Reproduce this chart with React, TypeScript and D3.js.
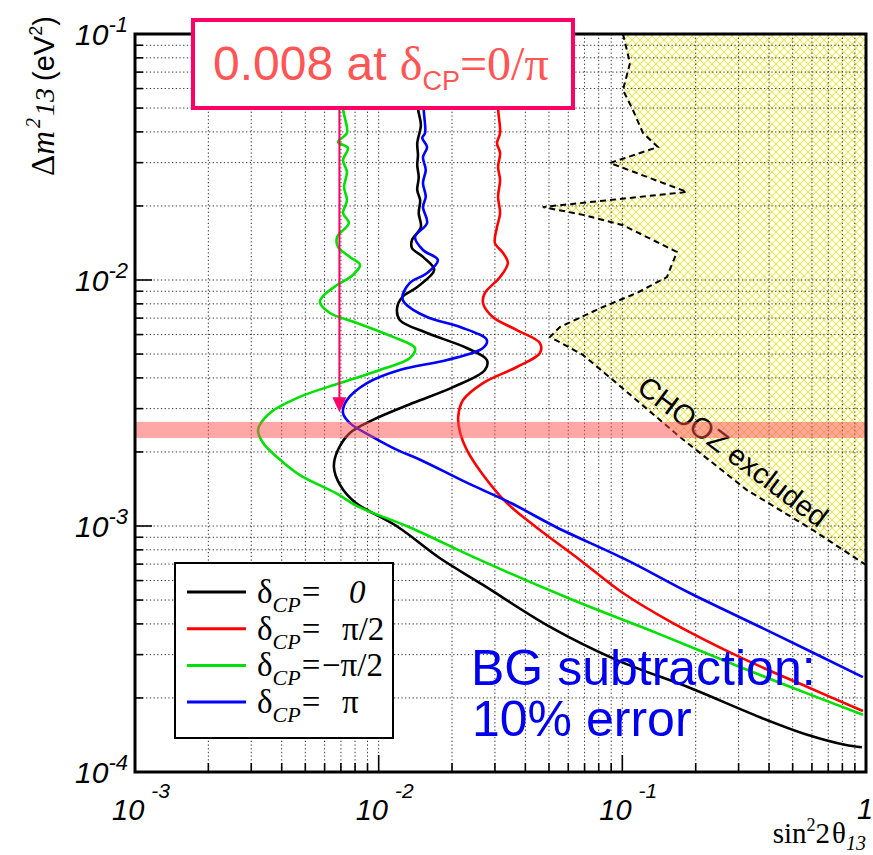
import * as d3 from "d3";

// delta_CP = 0 (black)
const blackDm = [0.1, 0.05, 0.0427, 0.036, 0.0322, 0.0293, 0.0262, 0.0232, 0.0211, 0.0187, 0.0164, 0.01454, 0.01349, 0.01241, 0.011, 0.00937, 0.00853, 0.00769, 0.00688, 0.00609, 0.00529, 0.00473, 0.00431, 0.00367, 0.00316, 0.0027, 0.00239, 0.00204, 0.00174, 0.00147, 0.00125, 0.000991, 0.000741, 0.000576, 0.000389, 0.000285, 0.00022, 0.000167, 0.000141, 0.000129, 0.000126];
const blackS2 = [0.0145, 0.0145, 0.0149, 0.0144, 0.0145, 0.0144, 0.0146, 0.0144, 0.0148, 0.0146, 0.0149, 0.0137, 0.0137, 0.0152, 0.0169, 0.0144, 0.0125, 0.0119, 0.0122, 0.0158, 0.023, 0.0278, 0.0273, 0.0202, 0.0138, 0.00947, 0.00762, 0.00681, 0.00655, 0.00694, 0.00799, 0.012, 0.0178, 0.0268, 0.0505, 0.095, 0.189, 0.367, 0.583, 0.819, 0.962];

// delta_CP = pi/2 (red)
const redDm = [0.1, 0.05, 0.0396, 0.036, 0.0328, 0.0288, 0.0255, 0.0218, 0.0187, 0.0164, 0.01414, 0.01288, 0.01173, 0.01028, 0.00886, 0.00806, 0.00707, 0.00626, 0.00554, 0.00505, 0.00443, 0.00381, 0.00325, 0.00277, 0.00239, 0.00204, 0.00164, 0.00124, 0.000991, 0.000728, 0.000534, 0.000403, 0.000293, 0.000222, 0.000177];
const redS2 = [0.0309, 0.0309, 0.0315, 0.0306, 0.0315, 0.0309, 0.0315, 0.0309, 0.0315, 0.0306, 0.03, 0.0324, 0.0339, 0.0315, 0.0273, 0.0268, 0.0294, 0.0369, 0.0459, 0.0459, 0.0369, 0.0268, 0.0222, 0.0212, 0.0216, 0.023, 0.0265, 0.0336, 0.0442, 0.067, 0.1006, 0.1613, 0.3039, 0.5721, 0.971];

// delta_CP = -pi/2 (green)
const greenDm = [0.1, 0.05, 0.0396, 0.0364, 0.0344, 0.0307, 0.0275, 0.0239, 0.0211, 0.0187, 0.01705, 0.01495, 0.01362, 0.01241, 0.01151, 0.01048, 0.00954, 0.00869, 0.00814, 0.00734, 0.00669, 0.00587, 0.00529, 0.00482, 0.00431, 0.00381, 0.00335, 0.00288, 0.00246, 0.00218, 0.00186, 0.00161, 0.00136, 0.0012, 0.000991, 0.000728, 0.0005, 0.000367, 0.000285, 0.000222, 0.000171];
const greenS2 = [0.00714, 0.00714, 0.00741, 0.00681, 0.00748, 0.00714, 0.00741, 0.00721, 0.00741, 0.00714, 0.00755, 0.00675, 0.00681, 0.00762, 0.00838, 0.00784, 0.00675, 0.00597, 0.00574, 0.00631, 0.00815, 0.01145, 0.01409, 0.01344, 0.01012, 0.00694, 0.00475, 0.00358, 0.0032, 0.00335, 0.00394, 0.00475, 0.00668, 0.00822, 0.01331, 0.026, 0.0627, 0.1387, 0.2587, 0.4872, 0.971];

// delta_CP = pi (blue)
const blueDm = [0.1, 0.05, 0.0396, 0.0378, 0.0347, 0.0316, 0.028, 0.0248, 0.0218, 0.0198, 0.01705, 0.01495, 0.01324, 0.01206, 0.01068, 0.00972, 0.00853, 0.00806, 0.00707, 0.00644, 0.0057, 0.00529, 0.00473, 0.00431, 0.00381, 0.00325, 0.00288, 0.00262, 0.0023, 0.00204, 0.00186, 0.0015, 0.00124, 0.000991, 0.000728, 0.000534, 0.000367, 0.000243];
const blueS2 = [0.0153, 0.0153, 0.0155, 0.0151, 0.0158, 0.0152, 0.0156, 0.0152, 0.0156, 0.0152, 0.0158, 0.0141, 0.0152, 0.0175, 0.0158, 0.0134, 0.0125, 0.0128, 0.0158, 0.0216, 0.0278, 0.0268, 0.0191, 0.0122, 0.00895, 0.00741, 0.00714, 0.00762, 0.00947, 0.0119, 0.0148, 0.023, 0.0349, 0.0534, 0.104, 0.189, 0.415, 0.971];

// CHOOZ excluded boundary
const choozS2 = [0.1006, 0.1075, 0.1006, 0.1105, 0.1215, 0.14, 0.0889, 0.1841, 0.0472, 0.0689, 0.1006, 0.1675, 0.1524, 0.1148, 0.0833, 0.0554, 0.0505, 0.0689, 0.0915, 0.1723, 0.3246, 0.6054, 1.0];
const choozDm = [0.1, 0.0762, 0.0592, 0.0491, 0.0396, 0.0347, 0.0299, 0.0228, 0.0198, 0.0184, 0.0167, 0.013, 0.01028, 0.00886, 0.00777, 0.00644, 0.00587, 0.00496, 0.00392, 0.0023, 0.0014, 0.000963, 0.000694];

const legendValues = ["0", "π/2", "−π/2", "π"];
const seriesColors = ["#000000", "#ff0000", "#00e000", "#0000ff"];

const xMajor = [1e-3, 1e-2, 1e-1, 1];
const xExp = ["-3", "-2", "-1", ""];
const yMajor = [1e-1, 1e-2, 1e-3, 1e-4];
const yExp = ["-1", "-2", "-3", "-4"];

// highlighted band and arrow annotation
const bandDm = [0.00228, 0.00265];
const arrowS2 = 0.0069;
const arrowDm = [0.05, 0.0029];
const choozLabelAt = [0.2687, 0.00186];

const W = 873;
const H = 855;
const L = 135, R = 866, T = 34, B = 772;
const SERIF = "Liberation Serif, Times New Roman, serif";
const SANS = "Liberation Sans, Arial, sans-serif";

export default function App() {
  const x = d3.scaleLog().domain([1e-3, 1]).range([L, R]);
  const y = d3.scaleLog().domain([1e-4, 1e-1]).range([B, T]);

  const series = [
    { dm: blackDm, s2: blackS2 },
    { dm: redDm, s2: redS2 },
    { dm: greenDm, s2: greenS2 },
    { dm: blueDm, s2: blueS2 },
  ].map((s, i) => ({
    color: seriesColors[i],
    label: legendValues[i],
    pts: s.dm.map((d, j) => [s.s2[j], d] as [number, number]),
  }));

  const line = d3
    .line<[number, number]>()
    .x((d) => x(d[0]))
    .y((d) => y(d[1]))
    .curve(d3.curveCatmullRom.alpha(0.5));

  const straight = d3
    .line<[number, number]>()
    .x((d) => x(d[0]))
    .y((d) => y(d[1]));

  const chooz = choozS2.map((s, i) => [s, choozDm[i]] as [number, number]);
  const choozArea = straight([...chooz, [1, 0.1]]) + "Z";
  const choozLine = straight(chooz) ?? "";

  const xt = x.ticks();
  const yt = y.ticks();
  const isMajor = (v: number) => Math.abs(Math.log10(v) - Math.round(Math.log10(v))) < 1e-6;

  const ax = x(arrowS2);
  const tipY = y(arrowDm[1]);

  return (
    <svg width={W} height={H} style={{ position: "absolute", left: 0, top: 0, background: "#fff" }}>
      <defs>
        <clipPath id="plotClip">
          <rect x={L} y={T} width={R - L} height={B - T} />
        </clipPath>
        <pattern id="hatch" width={8} height={8} patternUnits="userSpaceOnUse">
          <rect width={8} height={8} fill="#ffffe6" />
          <path d="M0,0 L8,8 M8,0 L0,8" stroke="#e2e246" strokeWidth={0.9} />
        </pattern>
      </defs>

      {/* CHOOZ excluded area */}
      <g clipPath="url(#plotClip)">
        <path d={choozArea} fill="url(#hatch)" />
      </g>

      {/* grid */}
      <g stroke="#333" strokeWidth={1} strokeDasharray="1.3 2.4">
        {xt.filter((v) => v > 1e-3 && v < 1).map((v) => (
          <line key={"gx" + v} x1={x(v)} x2={x(v)} y1={T} y2={B} />
        ))}
        {yt.filter((v) => v > 1e-4 && v < 1e-1).map((v) => (
          <line key={"gy" + v} x1={L} x2={R} y1={y(v)} y2={y(v)} />
        ))}
      </g>

      <g clipPath="url(#plotClip)">
        <path d={choozLine} fill="none" stroke="#000" strokeWidth={2} strokeDasharray="6 4" />
      </g>
      <text
        transform={`translate(${x(choozLabelAt[0])},${y(choozLabelAt[1])}) rotate(37)`}
        textAnchor="middle"
        fontFamily={SANS}
        fontSize={29}
        fill="#000"
      >
        CHOOZ excluded
      </text>

      {/* sensitivity curves */}
      <g clipPath="url(#plotClip)" fill="none" strokeWidth={2.6} strokeLinejoin="round">
        {series.map((s, i) => (
          <path key={i} d={line(s.pts) ?? ""} stroke={s.color} />
        ))}
      </g>

      {/* highlighted band */}
      <rect x={L} y={y(bandDm[1])} width={R - L} height={y(bandDm[0]) - y(bandDm[1])} fill="#ff4d4d" opacity={0.5} />

      {/* arrow */}
      <line x1={ax} x2={ax} y1={y(arrowDm[0])} y2={tipY - 14} stroke="#ff0066" strokeWidth={2} />
      <path d={`M${ax - 7},${tipY - 15} L${ax + 7},${tipY - 15} L${ax},${tipY} Z`} fill="#ff0066" />

      {/* BG subtraction text */}
      <text fill="#0000ee" fontFamily={SANS} fontSize={50}>
        <tspan x={471} y={685}>BG subtraction:</tspan>
        <tspan x={472} y={736}>10% error</tspan>
      </text>

      {/* legend */}
      <rect x={175} y={563} width={218} height={175} fill="#fff" stroke="#000" strokeWidth={2} />
      {series.map((s, i) => {
        const ly = 592 + i * 36.7;
        return (
          <g key={"lg" + i}>
            <line x1={187} x2={246} y1={ly} y2={ly} stroke={s.color} strokeWidth={3} />
            <text x={257} y={ly + 11} fontFamily={SERIF} fontSize={33} fill="#000">
              δ
              <tspan fontSize={22} fontStyle="italic" dy={9}>CP</tspan>
              <tspan dy={-9} dx={1}>=</tspan>
            </text>
            <text
              x={i === 2 ? 322 : i === 0 ? 349 : 342}
              y={ly + 11}
              fontFamily={SERIF}
              fontSize={33}
              fontStyle={i === 0 ? "italic" : "normal"}
              fill="#000"
            >
              {s.label}
            </text>
          </g>
        );
      })}

      {/* ticks */}
      <g stroke="#000" strokeWidth={1.6}>
        {xt.map((v) => (
          <line key={"tx" + v} x1={x(v)} x2={x(v)} y1={B} y2={B - (isMajor(v) ? 17 : 9)} />
        ))}
        {yt.map((v) => (
          <line key={"ty" + v} x1={L} x2={L + (isMajor(v) ? 17 : 8)} y1={y(v)} y2={y(v)} />
        ))}
      </g>
      <rect x={L} y={T} width={R - L} height={B - T} fill="none" stroke="#000" strokeWidth={3} />

      {/* tick labels */}
      <g fontFamily={SANS} fontStyle="italic" fill="#000">
        {yMajor.map((v, i) => (
          <text key={"yl" + v} x={75} y={y(v) + 11} fontSize={30}>
            10<tspan fontSize={22} dy={-13}>{yExp[i]}</tspan>
          </text>
        ))}
        {xMajor.map((v, i) =>
          xExp[i] ? (
            <text key={"xl" + v} x={x(v) - 23} y={820} fontSize={29}>
              10<tspan fontSize={21} dy={-22} dx={7}>{xExp[i]}</tspan>
            </text>
          ) : (
            <text key={"xl" + v} x={x(v) - 9} y={819} fontSize={29}>1</text>
          )
        )}
      </g>

      {/* axis titles */}
      <text transform="translate(54,176) rotate(-90)" fontFamily={SERIF} fontSize={33} fill="#000">
        Δ<tspan fontStyle="italic">m</tspan>
        <tspan fontStyle="italic" fontSize={20} dy={-14} dx={3}>2</tspan>
        <tspan fontStyle="italic" fontSize={28} dy={14} dx={2}>13</tspan>
        <tspan fontFamily={SANS} fontSize={29} dx={7}>(eV</tspan>
        <tspan fontFamily={SANS} fontSize={18} dy={-12}>2</tspan>
        <tspan fontFamily={SANS} fontSize={29} dy={12}>)</tspan>
      </text>
      <text x={866} y={843} textAnchor="end" fontFamily={SERIF} fontSize={29} fill="#000">
        sin<tspan fontSize={18} dy={-12}>2</tspan>
        <tspan dy={12}>2</tspan>
        <tspan dx={2}>θ</tspan>
        <tspan fontStyle="italic" fontSize={20} dy={7}>13</tspan>
      </text>

      {/* annotation box */}
      <rect x={193} y={20} width={380} height={88} fill="#fff" stroke="#ff0066" strokeWidth={4} />
      <text x={213} y={80} fill="#ff5555" fontFamily={SANS} fontSize={48}>
        0.008 at <tspan fontFamily={SERIF}>δ</tspan>
        <tspan fontSize={27} dy={10}>CP</tspan>
        <tspan fontFamily={SERIF} dy={-10}>=0/π</tspan>
      </text>
    </svg>
  );
}
